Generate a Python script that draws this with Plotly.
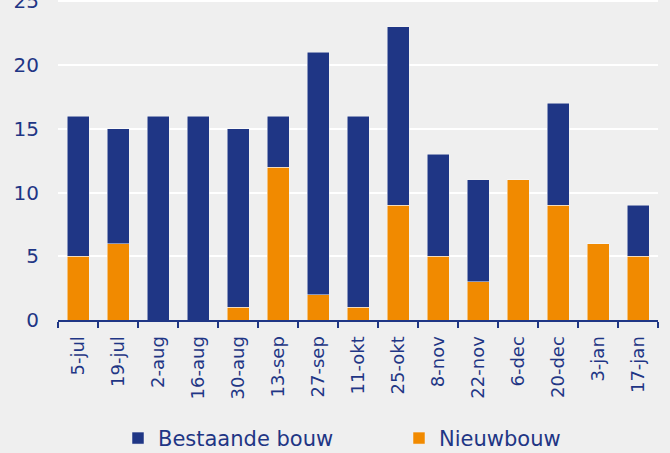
import plotly.graph_objects as go

categories = ["5-jul", "19-jul", "2-aug", "16-aug", "30-aug", "13-sep", "27-sep", "11-okt",
              "25-okt", "8-nov", "22-nov", "6-dec", "20-dec", "3-jan", "17-jan"]
nieuwbouw = [5, 6, 0, 0, 1, 12, 2, 1, 9, 5, 3, 11, 9, 6, 5]
bestaande_bouw = [11, 9, 16, 16, 14, 4, 19, 15, 14, 8, 8, 0, 8, 0, 4]
y_ticks = [0, 5, 10, 15, 20, 25]

NAVY = "#1F3685"
ORANGE = "#F18A00"
FONT = "DejaVu Sans"

fig = go.Figure()
fig.add_trace(go.Bar(x=categories, y=nieuwbouw, name="Nieuwbouw", marker_color=ORANGE,
                     marker_line=dict(color="#F5F5F5", width=0.5), legendrank=2))
fig.add_trace(go.Bar(x=categories, y=bestaande_bouw, name="Bestaande bouw", marker_color=NAVY,
                     marker_line=dict(color="#F5F5F5", width=0.5), legendrank=1))

fig.update_layout(
    width=670, height=453,
    barmode="stack", bargap=0.45,
    paper_bgcolor="#EFEFEF", plot_bgcolor="#EFEFEF",
    margin=dict(l=58, r=12, t=0, b=133, autoexpand=False),
    font=dict(family=FONT, color=NAVY),
    showlegend=True,
    legend=dict(orientation="h", x=0.1, xanchor="left", y=-0.37, yanchor="middle",
                font=dict(size=21, color=NAVY), entrywidth=236, traceorder="normal",
                bgcolor="rgba(0,0,0,0)"),
    xaxis=dict(tickangle=-90, tickfont=dict(size=18, color=NAVY), showline=True,
               linecolor=NAVY, linewidth=2, ticks="outside", tickson="boundaries",
               ticklen=6, tickcolor=NAVY, tickwidth=2, showgrid=False, automargin=False,
               ticklabelstandoff=7),
    yaxis=dict(range=[0, 25.1], tickvals=y_ticks, tickfont=dict(size=20, color=NAVY),
               gridcolor="#FFFFFF", gridwidth=2, zeroline=False, showline=False,
               ticks="", ticklabelstandoff=18, automargin=False,
               ticklabeloverflow="allow"),
)

fig.write_html("out.html", config={"displayModeBar": False},
               post_script="document.body.style.margin='0px';")
